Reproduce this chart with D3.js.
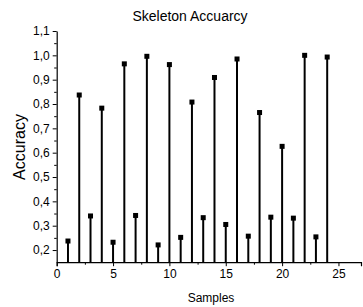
<!DOCTYPE html>
<html>
<head>
<meta charset="utf-8">
<script src="https://cdn.jsdelivr.net/npm/d3@7"></script>
<style>
  html, body { margin: 0; padding: 0; background: #fff; }
  svg { display: block; font-family: "Liberation Sans", Arial, sans-serif; }
</style>
</head>
<body>
<svg id="chart" width="363" height="307"></svg>
<script>
const samples = [1,2,3,4,5,6,7,8,9,10,11,12,13,14,15,16,17,18,19,20,21,22,23,24];
const accuracy = [0.237,0.837,0.340,0.783,0.232,0.965,0.342,0.996,0.221,0.962,0.252,0.808,0.333,0.909,0.305,0.985,0.257,0.765,0.335,0.626,0.331,1.0,0.254,0.993];
const xTicks = [0,5,10,15,20,25];
const yTicks = [0.2,0.3,0.4,0.5,0.6,0.7,0.8,0.9,1.0,1.1];
const titleText = "Skeleton Accuarcy";
const xLabel = "Samples";
const yLabel = "Accuracy";

const svg = d3.select("#chart");
const x = d3.scaleLinear().domain([0, 27]).range([56.7, 361]);
const y = d3.scaleLinear().domain([0.15, 1.1]).range([262.2, 31]);
const fmt = d => d3.format(".1f")(d).replace(".", ",");

// X axis
const xAxis = svg.append("g").attr("transform", `translate(0,${y(0.15)})`);
xAxis.call(d3.axisBottom(x).tickValues(xTicks).tickFormat(d3.format("d")).tickSize(4).tickPadding(3));
const xMinor = svg.append("g").attr("transform", `translate(0,${y(0.15)})`);
xMinor.call(d3.axisBottom(x).tickValues([2.5,7.5,12.5,17.5,22.5]).tickFormat("").tickSize(2.5).tickSizeOuter(0));
xMinor.select(".domain").remove();

// Y axis
const yAxis = svg.append("g").attr("transform", `translate(${x(0)},0)`);
yAxis.call(d3.axisLeft(y).tickValues(yTicks).tickFormat(fmt).tickSize(4).tickPadding(3).tickSizeOuter(0));
const yMinor = svg.append("g").attr("transform", `translate(${x(0)},0)`);
yMinor.call(d3.axisLeft(y).tickValues([0.25,0.35,0.45,0.55,0.65,0.75,0.85,0.95,1.05]).tickFormat("").tickSize(2.5).tickSizeOuter(0));
yMinor.select(".domain").remove();

svg.selectAll(".domain").attr("stroke", "#000").attr("stroke-width", 1.2);
svg.selectAll(".tick line").attr("stroke", "#000").attr("stroke-width", 1);
svg.selectAll(".tick text").attr("font-size", 12).attr("fill", "#000")
   .attr("font-family", "'Liberation Sans', Arial, sans-serif");

// Stems
svg.append("g").selectAll("line").data(samples).join("line")
  .attr("x1", d => x(d)).attr("x2", d => x(d))
  .attr("y1", y(0.15)).attr("y2", (d, i) => y(accuracy[i]))
  .attr("stroke", "#000").attr("stroke-width", 2);

// Markers
const ms = 5;
svg.append("g").selectAll("rect").data(samples).join("rect")
  .attr("x", d => x(d) - ms / 2)
  .attr("y", (d, i) => y(accuracy[i]) - ms / 2)
  .attr("width", ms).attr("height", ms)
  .attr("fill", "#000");

// Title and labels
svg.append("text").attr("x", 190).attr("y", 20.5).attr("text-anchor", "middle")
  .attr("font-size", 14).text(titleText);
svg.append("text").attr("x", 211).attr("y", 302).attr("text-anchor", "middle")
  .attr("font-size", 12).text(xLabel);
svg.append("text").attr("transform", "translate(24.5,147) rotate(-90)").attr("text-anchor", "middle")
  .attr("font-size", 16).text(yLabel);
</script>
</body>
</html>
